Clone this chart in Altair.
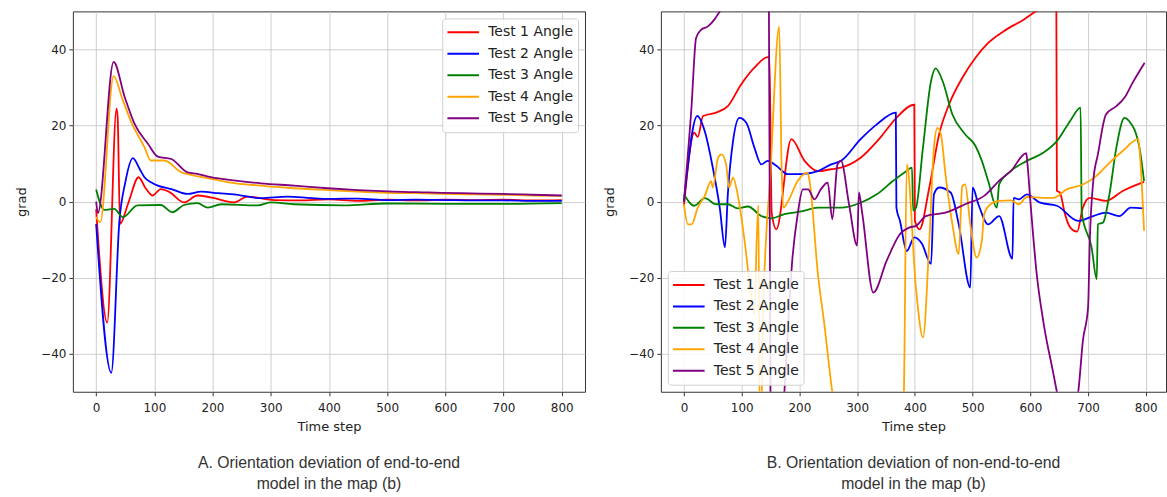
import altair as alt
import pandas as pd

SERIES = ["Test 1 Angle", "Test 2 Angle", "Test 3 Angle", "Test 4 Angle", "Test 5 Angle"]
COLORS = ["#ff0000", "#0000ff", "#008000", "#ffa500", "#800080"]
X_TICKS = [0, 100, 200, 300, 400, 500, 600, 700, 800]
Y_TICKS = [-40, -20, 0, 20, 40]

CAPTION_A = ["A. Orientation deviation of end-to-end", "model in the map (b)"]
CAPTION_B = ["B. Orientation deviation of non-end-to-end", "model in the map (b)"]

# ---------------- Panel A (end-to-end) ----------------
A1_T = [0, 19, 35, 37, 41, 55, 73, 85, 97, 111, 126, 151, 174, 197, 237, 260, 306, 350, 400, 450, 500, 550, 600, 650, 700, 750, 800]
A1_V = [-2, -31.8, 24.4, 22, -5.9, -0.5, 6.4, 3.5, 1.6, 3.3, 2.5, -0.2, 1.6, 1.1, -0.2, 1.3, 0.4, 0.3, 0.6, 0.2, 0.5, 0.3, 0.5, 0.4, 0.5, 0.3, 0.4]

A2_T = [0, 26, 40, 50, 63, 75, 83, 95, 106, 129, 157, 180, 210, 237, 283, 329, 370, 400, 450, 500, 550, 600, 650, 700, 750, 800]
A2_V = [-5.9, -45, -5, 5, 11.4, 8.5, 6.4, 5, 4.2, 3.3, 2, 2.6, 2.2, 1.9, 0.9, 1.3, 0.9, 0.7, 0.8, 0.4, 0.5, 0.4, 0.3, 0.3, 0.2, 0.2]

A3_T = [0, 14, 31, 46, 71, 111, 131, 151, 174, 192, 215, 278, 300, 340, 426, 500, 600, 700, 800]
A3_V = [3.2, -2.2, -1.9, -4.1, -1, -0.9, -2.8, -0.9, -0.4, -1.6, -0.7, -1, -0.2, -0.7, -1, -0.5, -0.6, -0.6, -0.4]

A4_T = [0, 7, 30, 45, 60, 83, 94, 117, 146, 169, 197, 240, 283, 340, 400, 450, 500, 550, 600, 650, 700, 750, 800]
A4_V = [-4, -5.4, 33, 27, 21, 14.3, 10.8, 10.8, 7.7, 6.8, 6, 4.8, 4.2, 3.5, 3, 2.6, 2.3, 2.2, 2, 1.9, 1.8, 1.6, 1.5]

A5_T = [0, 3, 30, 49, 66, 89, 106, 129, 157, 174, 197, 240, 283, 340, 398, 450, 512, 570, 627, 700, 750, 800]
A5_V = [0, -3, 36.7, 27.5, 20.4, 15.2, 11.8, 11.2, 7.7, 7.3, 6.4, 5.5, 4.8, 4.2, 3.5, 3, 2.6, 2.4, 2.2, 2, 1.8, 1.6]

# ---------------- Panel B (non-end-to-end) ----------------
B1_T = [0, 18, 24, 33, 56, 76, 99, 122, 145, 148, 152, 160, 186, 209, 232, 255, 272, 306, 340, 368, 399, 400, 408, 425, 442, 459, 482, 505, 527, 554, 589, 609, 630, 645, 646, 651, 660, 669, 681, 691, 703, 731, 760, 797]
B1_V = [-1.1, 18.1, 17, 22.5, 23.4, 25.1, 30.8, 35.2, 38, 38, -3, -7.3, 16.4, 10.7, 8, 8.5, 8.9, 11.5, 16.8, 22, 25.5, -5, -7.3, 3.7, 17.7, 25.5, 32.5, 37.8, 41.7, 44.8, 47.9, 50, 52, 53, 2.8, 2.4, -3.3, -6.8, -7.9, -1.6, 1, 0.2, 2.8, 5.2]

B2_T = [0, 23, 36, 50, 62, 71, 76, 85, 96, 108, 122, 134, 145, 160, 180, 203, 232, 255, 272, 306, 334, 367, 368, 374, 386, 399, 412, 428, 433, 442, 462, 476, 496, 500, 510, 527, 546, 569, 571, 580, 594, 617, 646, 683, 709, 731, 754, 774, 797]
B2_V = [0, 22.5, 18.5, 8.9, -1.6, -12, 1.9, 15.9, 22, 20.7, 14.2, 9.8, 10.7, 9.4, 7.2, 7.2, 8, 9.8, 10.7, 16.4, 20.3, 23.4, -1.6, -5, -13, -9.4, -11, -16.4, 1.9, 3.7, 2.4, -6, -22.6, 3.7, -0.7, -6, -3.8, -15, 1, 0.6, 1.9, -0.3, -1.1, -5.1, -3.8, -2.9, -3.8, -1.6, -1.8]

B3_T = [0, 18, 36, 56, 76, 93, 111, 134, 151, 174, 203, 232, 272, 306, 334, 362, 385, 395, 397, 402, 414, 428, 436, 448, 465, 487, 505, 516, 527, 542, 546, 566, 594, 623, 646, 669, 687, 689, 706, 715, 717, 726, 737, 749, 763, 771, 789, 797]
B3_V = [1.9, -1.1, 0.9, -0.7, -0.7, -1.8, -1.3, -3.8, -4.4, -3.3, -2.6, -1.6, -1.6, -0.3, 1.9, 5.4, 8, 8.9, -2.4, -1.6, 14.2, 31.7, 35, 31.7, 22.9, 17.7, 14.6, 10.7, 5.4, -1.6, 4.5, 8, 10.7, 12.9, 15.9, 21.2, 24.7, -3, -12, -20.4, -6, -5.5, 1.9, 14.2, 22, 21.2, 14.2, 5.4]

B4_T = [0, 7, 13, 24, 36, 47, 50, 59, 65, 73, 78, 85, 93, 105, 116, 122, 126, 129, 131, 134, 137, 150, 165, 169, 172, 180, 197, 214, 218, 232, 243, 257, 270, 378, 381, 386, 402, 414, 425, 433, 439, 445, 453, 465, 476, 482, 487, 496, 507, 516, 520, 531, 546, 566, 580, 594, 623, 640, 663, 691, 714, 737, 760, 787, 791, 797]
B4_V = [-0.7, -6, -6, -1.6, 1.5, 5.4, 3.7, 11.5, 12.4, 9.8, 3.7, 6.3, 1.9, -10.3, -24.3, -29.6, -10, -1, -55, -55, -30, 8, 46, 10, -1.6, 0, 5.4, 7.6, 5, -19, -32, -50, -60, -60, -50, 9.8, -23, -35.7, -10.3, 14.2, 19.4, 17.7, 7.2, -6, -13.8, 4, 4.5, -6, -14.7, -10.3, -3.3, -0.7, 0.2, 0.3, -0.7, 1.2, 1, 1, 3.2, 4.5, 6.7, 10.2, 13.3, 16.4, 9.8, -7.7]

B5_T = [0, 13, 21, 30, 41, 53, 62, 100, 147, 150, 160, 172, 174, 188, 197, 206, 215, 226, 237, 249, 257, 266, 272, 286, 300, 303, 309, 328, 351, 374, 391, 402, 419, 453, 487, 520, 549, 566, 593, 595, 600, 611, 623, 640, 646, 665, 683, 691, 700, 703, 709, 717, 731, 749, 763, 777, 798]
B5_V = [0, 24.7, 43, 45.2, 46, 47.9, 50, 55, 57, -55, -60, -55, -50, -14.7, -3.3, 3.2, 3.2, 0.6, 3.2, 5, -4.6, 9.8, 10.7, -0.7, -11.6, 2.4, -3.3, -23.9, -15.6, -8.6, -6.8, -6.4, -3.8, -2.9, -0.7, 1.5, 5.9, 8, 12.7, 10, 0.2, -19, -32, -45.3, -50, -60, -50, -36.6, -27.8, -10.3, 5.4, 12.4, 22.9, 25.1, 27.3, 31.2, 36.5]


def build(pairs):
    rows = []
    for name, (ts, vs) in zip(SERIES, pairs):
        for i, (t, v) in enumerate(zip(ts, vs)):
            rows.append({"t": t, "v": v, "series": name, "i": i})
    return pd.DataFrame(rows)


dfA = build([(A1_T, A1_V), (A2_T, A2_V), (A3_T, A3_V), (A4_T, A4_V), (A5_T, A5_V)])
dfB = build([(B1_T, B1_V), (B2_T, B2_V), (B3_T, B3_V), (B4_T, B4_V), (B5_T, B5_V)])


def panel(df, xdom, width, legend_orient, caption):
    return alt.Chart(df).mark_line(strokeWidth=1.8, clip=True, interpolate="monotone").encode(
        x=alt.X("t:Q", scale=alt.Scale(domain=xdom, nice=False, zero=False),
                axis=alt.Axis(values=X_TICKS, title="Time step")),
        y=alt.Y("v:Q", scale=alt.Scale(domain=[-50, 50], nice=False),
                axis=alt.Axis(values=Y_TICKS, title="grad")),
        color=alt.Color("series:N", scale=alt.Scale(domain=SERIES, range=COLORS),
                        legend=alt.Legend(orient=legend_orient, title=None, offset=7)),
        order=alt.Order("i:Q"),
    ).properties(
        width=width, height=381,
        title=alt.TitleParams(text=caption, orient="bottom", anchor="middle",
                              font="Liberation Sans", fontSize=15.8, fontWeight="normal",
                              color="#333333", offset=22, lineHeight=21),
    )


left = panel(dfA, [-40, 840], 513, "top-right", CAPTION_A)
right = panel(dfB, [-40, 835], 506, "bottom-left", CAPTION_B)

chart = alt.hconcat(left, right, spacing=17).resolve_scale(color="independent").properties(
    padding={"left": 15, "top": 10, "right": 0, "bottom": 0},
    background="white",
).configure_view(
    stroke="#333333", strokeWidth=1
).configure_axis(
    labelFont="DejaVu Sans", labelFontSize=12, labelColor="#222222",
    titleFont="DejaVu Sans", titleFontSize=13, titleFontWeight="normal", titleColor="#222222",
    tickColor="#333333", tickSize=4, domain=False,
    gridColor="#c8c8c8", gridWidth=0.9,
).configure_axisY(
    titlePadding=12, labelPadding=3,
).configure_axisX(
    titlePadding=7, labelPadding=7,
).configure_legend(
    symbolType="stroke", symbolStrokeWidth=2, symbolSize=1000,
    labelFont="DejaVu Sans", labelFontSize=14, labelColor="#222222",
    fillColor="rgba(255,255,255,0.85)", strokeColor="#d0d0d0", cornerRadius=3,
    padding=4, rowPadding=1.5, clipHeight=20, labelOffset=8,
)

chart.save("out.html", embed_options={"renderer": "svg", "actions": False})
